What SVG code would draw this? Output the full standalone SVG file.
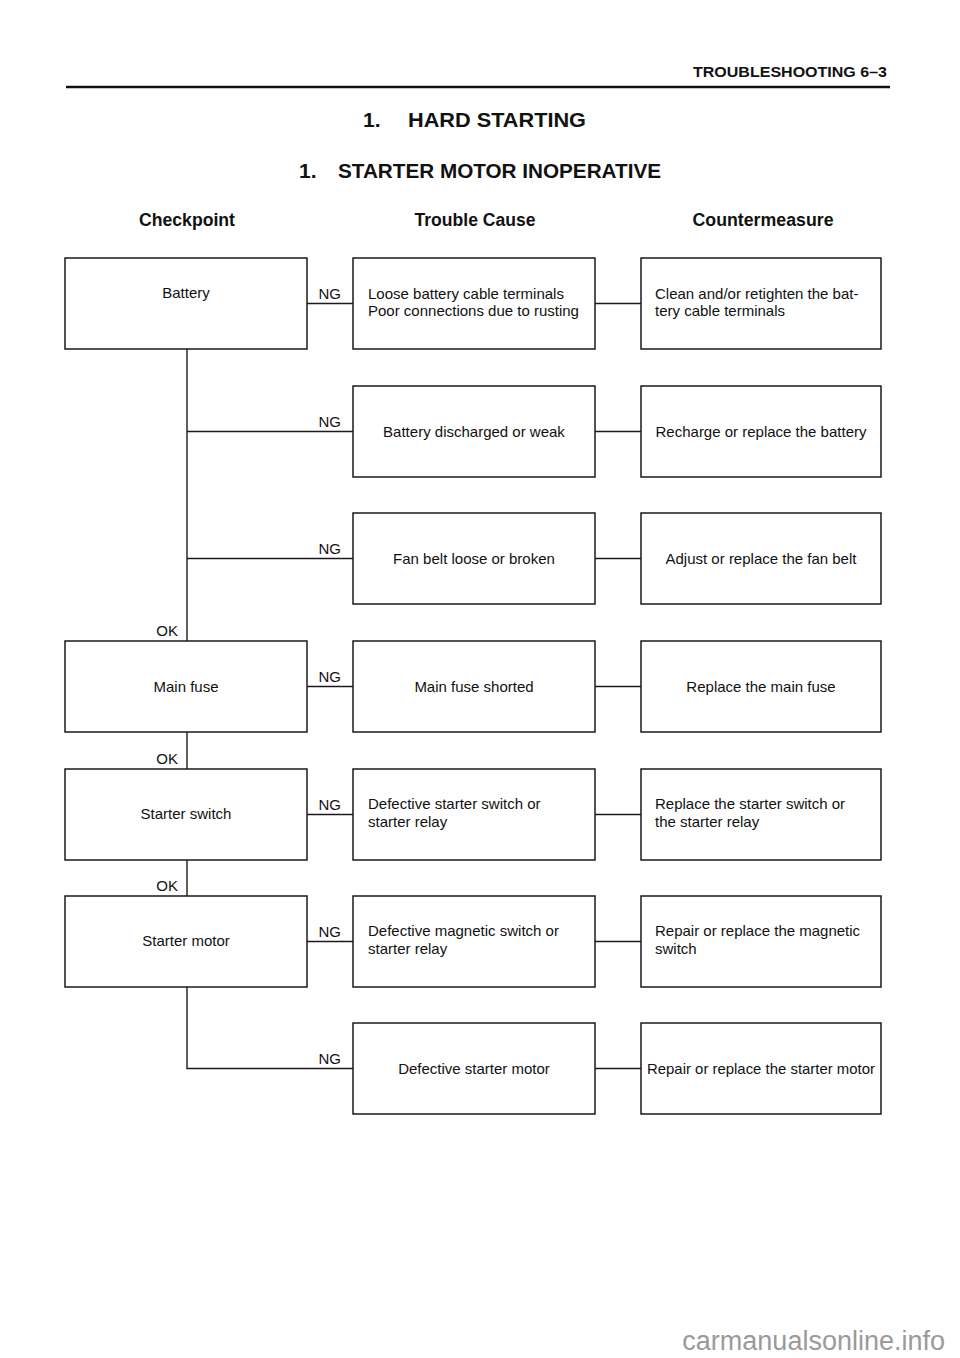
<svg xmlns="http://www.w3.org/2000/svg" width="960" height="1358" viewBox="0 0 960 1358">
<style>
.bg{fill:#ffffff}
.box{fill:#ffffff;stroke:#1a1a1a;stroke-width:1.5}
.ln{fill:none;stroke:#1a1a1a;stroke-width:1.4}
.t{font-family:"Liberation Sans",Arial,sans-serif;font-size:15px;fill:#111}
.c{text-anchor:middle}
.r{text-anchor:end}
.h{font-family:"Liberation Sans",Arial,sans-serif;font-weight:bold;fill:#111}
.wm{font-family:"Liberation Sans",Arial,sans-serif;font-size:27px;fill:#9a9a9a}
</style>
<rect class="bg" x="0" y="0" width="960" height="1358"/>
<g id="header">
<text class="h" x="887" y="77" font-size="15" text-anchor="end" textLength="194" lengthAdjust="spacingAndGlyphs">TROUBLESHOOTING 6–3</text>
<line x1="66" y1="87" x2="890" y2="87" stroke="#111" stroke-width="2.6"/>
<text class="h" x="363" y="127" font-size="21">1.</text>
<text class="h" x="408" y="127" font-size="21" textLength="178" lengthAdjust="spacingAndGlyphs">HARD STARTING</text>
<text class="h" x="299" y="178" font-size="21">1.</text>
<text class="h" x="338" y="178" font-size="21" textLength="323" lengthAdjust="spacingAndGlyphs">STARTER MOTOR INOPERATIVE</text>
<text class="h" x="187" y="226" font-size="18" text-anchor="middle" textLength="96" lengthAdjust="spacingAndGlyphs">Checkpoint</text>
<text class="h" x="475" y="226" font-size="18" text-anchor="middle" textLength="121" lengthAdjust="spacingAndGlyphs">Trouble Cause</text>
<text class="h" x="763" y="226" font-size="18" text-anchor="middle" textLength="141" lengthAdjust="spacingAndGlyphs">Countermeasure</text>
</g>
<g id="connectors">
<path class="ln" d="M187 349 V641"/>
<path class="ln" d="M187 732 V769"/>
<path class="ln" d="M187 860 V896"/>
<path class="ln" d="M187 987 V1068.5 H353"/>
<path class="ln" d="M187 431.5 H353"/>
<path class="ln" d="M187 558.5 H353"/>
<path class="ln" d="M307 303.5 H353"/>
<path class="ln" d="M307 686.5 H353"/>
<path class="ln" d="M307 814.5 H353"/>
<path class="ln" d="M307 941.5 H353"/>
<path class="ln" d="M595 303.5 H641"/>
<path class="ln" d="M595 431.5 H641"/>
<path class="ln" d="M595 558.5 H641"/>
<path class="ln" d="M595 686.5 H641"/>
<path class="ln" d="M595 814.5 H641"/>
<path class="ln" d="M595 941.5 H641"/>
<path class="ln" d="M595 1068.5 H641"/>
<text class="t r" x="341" y="298.5">NG</text>
<text class="t r" x="341" y="426.5">NG</text>
<text class="t r" x="341" y="553.5">NG</text>
<text class="t r" x="341" y="681.5">NG</text>
<text class="t r" x="341" y="809.5">NG</text>
<text class="t r" x="341" y="936.5">NG</text>
<text class="t r" x="341" y="1063.5">NG</text>
<text class="t r" x="178" y="636">OK</text>
<text class="t r" x="178" y="764">OK</text>
<text class="t r" x="178" y="891">OK</text>
</g>
<g id="cp-battery"><rect class="box" x="65" y="258" width="242" height="91"/><text class="t c" x="186" y="298">Battery</text></g>
<g id="cp-mainfuse"><rect class="box" x="65" y="641" width="242" height="91"/><text class="t c" x="186" y="691.5">Main fuse</text></g>
<g id="cp-starterswitch"><rect class="box" x="65" y="769" width="242" height="91"/><text class="t c" x="186" y="819">Starter switch</text></g>
<g id="cp-startermotor"><rect class="box" x="65" y="896" width="242" height="91"/><text class="t c" x="186" y="946">Starter motor</text></g>

<g id="tc-1"><rect class="box" x="353" y="258" width="242" height="91"/><text class="t" x="368" y="299">Loose battery cable terminals</text><text class="t" x="368" y="316">Poor connections due to rusting</text></g>
<g id="tc-2"><rect class="box" x="353" y="386" width="242" height="91"/><text class="t c" x="474" y="436.5">Battery discharged or weak</text></g>
<g id="tc-3"><rect class="box" x="353" y="513" width="242" height="91"/><text class="t c" x="474" y="563.5">Fan belt loose or broken</text></g>
<g id="tc-4"><rect class="box" x="353" y="641" width="242" height="91"/><text class="t c" x="474" y="691.5">Main fuse shorted</text></g>
<g id="tc-5"><rect class="box" x="353" y="769" width="242" height="91"/><text class="t" x="368" y="809">Defective starter switch or</text><text class="t" x="368" y="827">starter relay</text></g>
<g id="tc-6"><rect class="box" x="353" y="896" width="242" height="91"/><text class="t" x="368" y="936">Defective magnetic switch or</text><text class="t" x="368" y="954">starter relay</text></g>
<g id="tc-7"><rect class="box" x="353" y="1023" width="242" height="91"/><text class="t c" x="474" y="1073.5">Defective starter motor</text></g>

<g id="cm-1"><rect class="box" x="641" y="258" width="240" height="91"/><text class="t" x="655" y="299">Clean and/or retighten the bat-</text><text class="t" x="655" y="316">tery cable terminals</text></g>
<g id="cm-2"><rect class="box" x="641" y="386" width="240" height="91"/><text class="t c" x="761" y="436.5">Recharge or replace the battery</text></g>
<g id="cm-3"><rect class="box" x="641" y="513" width="240" height="91"/><text class="t c" x="761" y="563.5">Adjust or replace the fan belt</text></g>
<g id="cm-4"><rect class="box" x="641" y="641" width="240" height="91"/><text class="t c" x="761" y="691.5">Replace the main fuse</text></g>
<g id="cm-5"><rect class="box" x="641" y="769" width="240" height="91"/><text class="t" x="655" y="809">Replace the starter switch or</text><text class="t" x="655" y="827">the starter relay</text></g>
<g id="cm-6"><rect class="box" x="641" y="896" width="240" height="91"/><text class="t" x="655" y="936">Repair or replace the magnetic</text><text class="t" x="655" y="954">switch</text></g>
<g id="cm-7"><rect class="box" x="641" y="1023" width="240" height="91"/><text class="t c" x="761" y="1073.5" textLength="228" lengthAdjust="spacingAndGlyphs">Repair or replace the starter motor</text></g>

<text class="wm" x="945" y="1350" text-anchor="end">carmanualsonline.info</text>
</svg>
